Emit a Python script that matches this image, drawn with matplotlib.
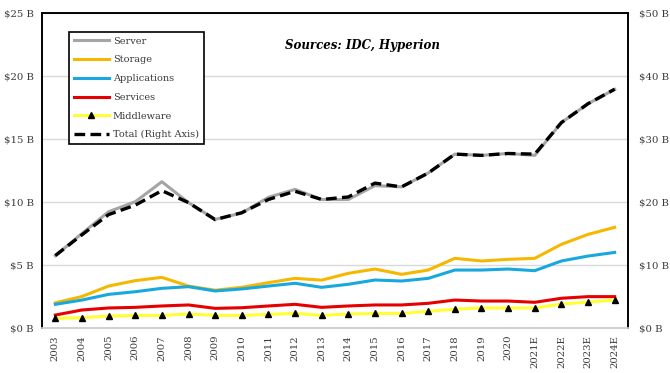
import matplotlib
matplotlib.use("Agg")
import matplotlib.pyplot as plt
from matplotlib.ticker import FuncFormatter

plt.rcParams['font.family'] = ['DejaVu Serif']

years = ['2003', '2004', '2005', '2006', '2007', '2008', '2009', '2010', '2011', '2012',
         '2013', '2014', '2015', '2016', '2017', '2018', '2019', '2020', '2021E', '2022E',
         '2023E', '2024E']

server = [5.74, 7.5, 9.23, 10.02, 11.61, 9.95, 8.62, 9.13, 10.37, 11.0, 10.2,
          10.2, 11.3, 11.2, 12.3, 13.8, 13.7, 13.85, 13.7, 16.3, 17.8, 18.94]
storage = [2.0, 2.5, 3.33, 3.76, 4.02, 3.33, 3.0, 3.23, 3.6, 3.94, 3.8,
           4.34, 4.68, 4.26, 4.6, 5.53, 5.32, 5.45, 5.53, 6.64, 7.43, 7.99]
applications = [1.88, 2.22, 2.67, 2.88, 3.15, 3.28, 2.94, 3.1, 3.33, 3.55, 3.23,
                3.47, 3.81, 3.73, 3.94, 4.6, 4.6, 4.68, 4.55, 5.32, 5.71, 6.0]
services = [1.03, 1.43, 1.59, 1.64, 1.75, 1.83, 1.56, 1.61, 1.75, 1.88, 1.64,
            1.75, 1.83, 1.83, 1.96, 2.22, 2.14, 2.14, 2.04, 2.36, 2.49, 2.49]
middleware = [0.77, 0.82, 0.95, 1.0, 1.0, 1.11, 1.0, 1.0, 1.08, 1.16, 1.0,
              1.11, 1.16, 1.16, 1.32, 1.5, 1.59, 1.59, 1.59, 1.9, 2.06, 2.22]
total = [11.5, 14.8, 18.0, 19.5, 21.8, 19.9, 17.2, 18.3, 20.4, 21.7, 20.4,
         20.8, 23.0, 22.4, 24.6, 27.6, 27.4, 27.7, 27.6, 32.6, 35.6, 37.9]

x = list(range(len(years)))
txt = '#3a3a3a'

fig = plt.figure(figsize=(6.7, 3.73), dpi=100)
ax = fig.add_axes([0.0627, 0.1206, 0.8746, 0.8446])
ax2 = ax.twinx()

# left axis series
h1, = ax.plot(x, server, color='#A5A5A5', lw=2.2, label='Server')
h2, = ax.plot(x, storage, color='#F5B800', lw=2.2, label='Storage')
h3, = ax.plot(x, applications, color='#18A8DE', lw=2.2, label='Applications')
h4, = ax.plot(x, services, color='#E60000', lw=2.2, label='Services')
h5, = ax.plot(x, middleware, color='#FFFF33', lw=2.2, marker='^', ms=4,
              mfc='black', mec='black', label='Middleware')
# right axis
h6, = ax2.plot(x, total, color='black', lw=2.4, dashes=(3.2, 1.6),
               label='Total (Right Axis)')

ax.set_xlim(-0.5, 21.5)
ax.set_ylim(0, 25)
ax2.set_ylim(0, 50)
ax.set_yticks([0, 5, 10, 15, 20, 25])
ax2.set_yticks([0, 10, 20, 30, 40, 50])
ax.yaxis.set_major_formatter(FuncFormatter(lambda v, p: '$%d B' % v))
ax2.yaxis.set_major_formatter(FuncFormatter(lambda v, p: '$%d B' % v))
ax.set_xticks(x)
ax.set_xticklabels(years, rotation=90)

for a in (ax, ax2):
    a.tick_params(axis='y', length=0, labelsize=7.3, colors=txt, pad=6)
    for s in a.spines.values():
        s.set_color('black')
        s.set_linewidth(1.2)
    a.spines['bottom'].set_color('#D0D0D0')
ax2.tick_params(axis='y', pad=8)
ax.tick_params(axis='x', length=0, labelsize=7.3, colors=txt, pad=5)

ax.grid(axis='y', color='#D9D9D9', lw=1)
ax.set_axisbelow(True)

ax2.text(0.546, 0.898, 'Sources: IDC, Hyperion', transform=ax.transAxes,
         ha='center', va='center', fontsize=8.5, fontweight='bold', fontstyle='italic')

leg = ax2.legend(handles=[h1, h2, h3, h4, h5, h6], loc='upper left',
                 bbox_to_anchor=(0.046, 0.94), fontsize=7, handlelength=3.6,
                 handletextpad=0.4, labelspacing=1.0, borderpad=0.5,
                 borderaxespad=0, fancybox=False, framealpha=1, edgecolor='black')
leg.get_frame().set_linewidth(1.2)
for t in leg.get_texts():
    t.set_color(txt)

fig.savefig('out.png', dpi=100)
